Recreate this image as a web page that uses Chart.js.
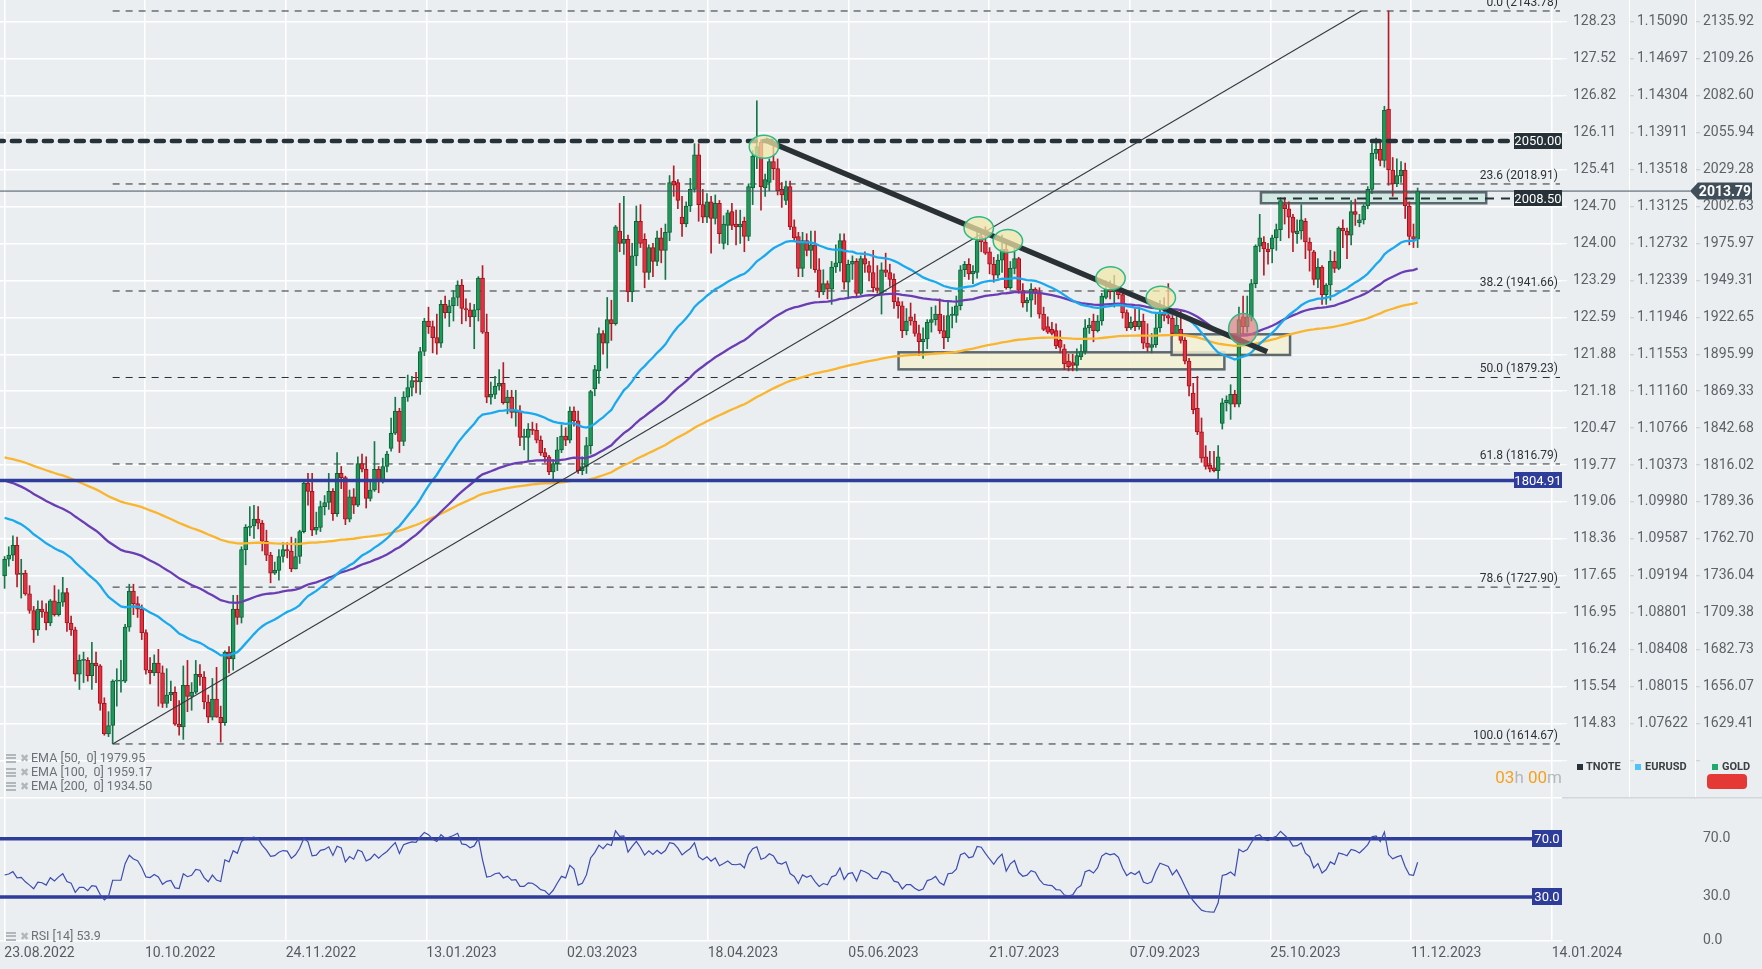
<!DOCTYPE html>
<html>
<head>
<meta charset="utf-8">
<script src="https://cdn.jsdelivr.net/npm/chart.js@4.4.0/dist/chart.umd.min.js"></script>
<style>
html,body{margin:0;padding:0;background:#eaeef1;width:1762px;height:969px;overflow:hidden;font-family:Roboto,sans-serif}
canvas{position:absolute;left:0}
#main{top:0}
#rsi{top:797px}
.leg{position:absolute;left:6px;height:14px;font-size:12.5px;line-height:14px;color:#6d7175;white-space:pre}
.leg .bars{display:inline-block;width:10px;height:9px;margin-right:4px;vertical-align:-1px;
  background:repeating-linear-gradient(#b2b7bb 0 2px,transparent 2px 3.5px)}
.leg .x{display:inline-block;width:11px;font-size:11px;color:#b2b7bb}
.sq{position:absolute;top:764px;width:6px;height:6px}
.lg{position:absolute;top:760px;font-size:11px;font-weight:bold;color:#3b4044;line-height:14px}
#timer{position:absolute;right:200px;top:767px;font-size:17px;line-height:20px;color:#b3b7bb}
#timer b{font-weight:normal;color:#f6a11c}
#redbox{position:absolute;left:1707px;top:774px;width:40px;height:15px;border-radius:4px;background:#e53935}
</style>
</head>
<body>
<canvas id="main" width="1762" height="797"></canvas>
<canvas id="rsi" width="1762" height="172"></canvas>

<div class="leg" style="top:751px"><span class="bars"></span><span class="x">✖</span>EMA [50,  0] 1979.95</div>
<div class="leg" style="top:765px"><span class="bars"></span><span class="x">✖</span>EMA [100,  0] 1959.17</div>
<div class="leg" style="top:779px"><span class="bars"></span><span class="x">✖</span>EMA [200,  0] 1934.50</div>
<div class="leg" style="top:929px"><span class="bars"></span><span class="x">✖</span>RSI [14] 53.9</div>

<div class="sq" style="left:1577px;background:#263238"></div><div class="lg" style="left:1586px">TNOTE</div>
<div class="sq" style="left:1635px;background:#4fc3f7"></div><div class="lg" style="left:1645px">EURUSD</div>
<div class="sq" style="left:1712px;background:#1faa6a"></div><div class="lg" style="left:1722px">GOLD</div>
<div id="redbox"></div>
<div id="timer"><b>03</b>h <b>00</b>m</div>

<script>
// ---- candles: GOLD daily, 23.08.2022 .. 13.12.2023 ----
const opens = [
  1736,1748,1751,1758,1737,1738,1723,
  1711,1697,1712,1710,1702,1718,1708,1717,1724,1702,1697,1665,1675,1675,1664,1673,1671,1644,1622,1628,1660,1660,
  1660,1699,1725,1716,1712,1695,1668,1666,1673,1666,1644,1650,1652,1629,1627,1657,1649,1652,1665,1663,1645,
  1634,1647,1634,1630,1681,1676,1712,1706,1755,1771,1772,1777,1774,1761,1751,1738,1740,1750,1755,1754,1741,1750,
  1768,1803,1797,1769,1771,1786,1789,1797,1781,1810,1807,1777,1793,1787,1817,1813,1792,1798,1813,1804,1815,
  1828,1839,1855,1833,1865,1872,1877,1876,1898,1920,1916,1908,1904,1932,1926,1931,1937,1946,1929,1928,1923,
  1928,1951,1912,1865,1867,1873,1875,1861,1865,1854,1855,1836,1836,1842,1841,1834,1825,1822,1811,1817,
  1827,1837,1834,1855,1848,1812,1815,1830,1871,1884,1911,1904,1921,1918,1985,1976,1979,1941,1967,1992,
  1979,1955,1973,1963,1980,1971,1984,2021,2020,1995,1990,2003,2015,2040,
  2004,1995,2006,1994,2005,1976,1989,1999,1990,1988,1992,1981,2016,2039,
  2049,2016,2020,2035,2030,2015,2007,2017,1988,1981,1958,1978,1971,1975,1957,1941,1947,1943,1959,
  1962,1978,1948,1961,1963,1940,1965,1960,1955,1944,1940,1957,1955,1950,1934,1931,1913,1923,1920,1911,1905,1907,
  1919,1921,1925,1913,1908,1924,1924,1931,1957,1961,1954,1955,1981,1977,1970,1961,1953,1964,1972,1944,1958,
  1965,1942,1933,1935,1943,1940,1925,1916,1914,1913,1906,1900,1891,1890,1888,
  1894,1898,1915,1920,1913,1920,1937,1943,1941,1942,1939,1926,1915,1920,1916,1920,1904,1901,1903,1915,
  1926,1924,1922,1911,1914,1906,1891,1868,1857,1840,1822,1816,1814,1812,1846,1861,1860,1867,1860,
  1923,1916,1923,1947,1974,1977,1972,1972,1980,1986,2004,2001,1995,1983,1985,1992,1977,1970,1950,1959,
  1939,1946,1963,1958,1987,1985,1982,1999,1991,1993,2003,2015,2041,2044,2036,2073,2029,2019,2025,2029,
  2003,1981,1979
];
const highs = [
  1750,1757,1765,1764,1748,1740,1729,
  1714,1718,1718,1716,1719,1729,1726,1735,1727,1707,1699,1679,1681,1677,1688,1681,1672,1648,1638,1661,1669,1675,
  1701,1730,1730,1721,1715,1697,1677,1679,1683,1671,1669,1660,1656,1646,1671,1675,1659,1675,1672,1667,1650,
  1662,1670,1642,1682,1685,1722,1722,1757,1773,1786,1787,1786,1776,1769,1753,1746,1755,1760,1760,1764,1763,1769,
  1804,1810,1810,1782,1790,1794,1810,1799,1825,1815,1808,1798,1799,1822,1824,1822,1805,1833,1815,1821,1826,
  1850,1865,1857,1869,1881,1880,1883,1901,1922,1930,1920,1925,1935,1938,1935,1942,1949,1950,1936,1933,1932,
  1952,1960,1925,1876,1880,1885,1890,1870,1870,1870,1859,1842,1846,1847,1846,1837,1828,1823,1820,1836,
  1845,1843,1858,1858,1855,1822,1836,1870,1888,1915,1913,1937,1935,1989,2005,2010,1982,1976,2003,2004,
  1983,1975,1976,1985,1987,1990,2025,2032,2022,2010,2006,2023,2048,2048,
  2015,2012,2010,2011,2007,1996,2000,2005,2000,2000,1995,2019,2043,2079,
  2051,2026,2037,2048,2037,2020,2021,2021,1993,1984,1984,1983,1985,1985,1965,1957,1949,1963,1975,
  1983,1983,1964,1967,1965,1967,1970,1963,1971,1960,1962,1969,1961,1954,1937,1934,1929,1933,1925,1917,1915,1921,
  1930,1931,1936,1924,1935,1930,1938,1960,1963,1965,1960,1987,1984,1988,1973,1966,1968,1982,1978,1963,1975,
  1966,1947,1937,1947,1944,1944,1930,1923,1919,1918,1913,1903,1896,1896,1900,
  1903,1921,1922,1925,1924,1940,1949,1949,1953,1945,1941,1928,1923,1929,1929,1925,1918,1911,1925,1935,
  1937,1947,1925,1926,1927,1908,1893,1875,1880,1850,1830,1826,1826,1830,1864,1866,1874,1870,1930,
  1938,1938,1950,1975,1997,1981,1976,1982,1990,2009,2009,2006,1997,1993,2004,1994,1980,1971,1965,1960,
  1947,1971,1970,1988,1993,1987,2007,2008,1997,2004,2017,2048,2052,2050,2075,2143.78,2038,2037,2035,2034,
  2006,1990,2016
];
const lows = [
  1727,1743,1747,1728,1720,1722,1709,
  1688,1693,1706,1697,1700,1707,1707,1714,1696,1693,1660,1654,1659,1660,1654,1659,1639,1621,1620,1615,1642,1652,
  1659,1696,1708,1706,1690,1665,1658,1664,1642,1641,1641,1646,1628,1621,1618,1638,1639,1651,1657,1640,1630,
  1632,1634,1616,1628,1666,1668,1701,1702,1744,1765,1763,1770,1754,1747,1731,1737,1733,1746,1749,1739,1741,1745,
  1767,1787,1765,1766,1768,1780,1784,1776,1779,1799,1773,1775,1781,1786,1811,1785,1790,1797,1796,1803,1811,
  1826,1838,1825,1830,1862,1866,1868,1867,1895,1911,1897,1896,1901,1922,1916,1920,1931,1918,1920,1916,1900,
  1920,1911,1861,1860,1864,1870,1860,1853,1850,1844,1830,1827,1819,1838,1832,1823,1818,1809,1804,1812,
  1825,1830,1832,1844,1810,1809,1810,1824,1866,1875,1896,1886,1906,1917,1970,1968,1934,1934,1960,1973,
  1944,1950,1952,1960,1962,1950,1978,2010,2001,1981,1988,1999,2013,1992,
  1991,1991,1969,1990,1976,1972,1975,1986,1975,1976,1970,1978,2004,2030,
  2000,2010,2014,2022,2011,2002,2004,1986,1978,1952,1952,1967,1958,1955,1937,1939,1936,1932,1955,
  1956,1943,1936,1950,1937,1939,1955,1949,1941,1940,1925,1952,1945,1929,1922,1908,1910,1917,1909,1895,1893,1900,
  1912,1917,1911,1900,1905,1915,1919,1928,1952,1950,1947,1951,1970,1968,1954,1948,1951,1955,1943,1943,1954,
  1940,1930,1927,1923,1932,1922,1913,1911,1910,1900,1897,1885,1884,1884,1884,
  1892,1896,1911,1905,1912,1917,1936,1936,1930,1936,1922,1913,1914,1913,1914,1900,1898,1897,1901,1912,
  1920,1918,1909,1910,1904,1889,1866,1853,1838,1818,1813,1811,1811,1806,1842,1855,1849,1858,1858,
  1911,1912,1920,1944,1970,1953,1961,1962,1971,1978,1990,1980,1970,1976,1979,1965,1956,1946,1944,1932,
  1932,1935,1955,1957,1973,1965,1975,1989,1988,1990,2001,2012,2037,2032,2031,2018,2010,2017,2020,1994,
  1975,1973,1973
];
const closes = [
  1748,1751,1758,1737,1738,1723,1711,
  1697,1712,1710,1702,1718,1708,1717,1724,1702,1697,1665,1675,1675,1664,1673,1671,1644,1622,1628,1660,1660,1660,
  1699,1725,1716,1712,1695,1668,1666,1673,1666,1644,1650,1652,1629,1627,1657,1649,1652,1665,1663,1645,1634,
  1647,1634,1630,1681,1676,1712,1706,1755,1771,1772,1777,1774,1761,1751,1738,1740,1750,1755,1754,1741,1750,1768,
  1803,1797,1769,1771,1786,1789,1797,1781,1810,1807,1777,1793,1787,1817,1813,1792,1798,1813,1804,1815,1824,
  1839,1855,1833,1865,1872,1877,1876,1898,1920,1916,1908,1904,1932,1926,1931,1937,1946,1929,1928,1923,1928,
  1951,1912,1865,1867,1873,1875,1861,1865,1854,1855,1836,1836,1842,1841,1834,1825,1822,1811,1817,1827,
  1837,1834,1855,1848,1812,1815,1830,1869,1885,1911,1904,1921,1918,1988,1976,1979,1941,1967,1992,1976,
  1955,1973,1963,1980,1971,1984,2020,2018,2007,1990,2003,2015,2040,2004,
  1995,2006,1994,2005,1983,1990,1998,1989,1988,1990,1981,2017,2039,2046,
  2017,2022,2035,2030,2014,2011,2017,1988,1980,1958,1978,1971,1975,1957,1941,1947,1943,1959,1962,
  1978,1948,1961,1963,1940,1965,1961,1955,1944,1942,1957,1955,1950,1934,1931,1913,1920,1920,1911,1905,1907,1919,
  1921,1925,1913,1908,1924,1925,1931,1957,1961,1954,1956,1978,1977,1969,1961,1953,1964,1972,1944,1958,1965,
  1942,1933,1935,1943,1940,1925,1914,1912,1911,1902,1901,1889,1887,1888,1895,
  1898,1915,1917,1913,1920,1938,1943,1941,1943,1939,1926,1915,1919,1916,1920,1904,1901,1903,1915,1926,
  1924,1922,1911,1917,1906,1891,1873,1856,1840,1821,1815,1813,1812,1822,1861,1863,1867,1860,1921,
  1916,1923,1947,1974,1980,1972,1970,1980,1986,2007,2001,1995,1984,1985,1993,1977,1971,1950,1959,1939,
  1946,1963,1958,1987,1985,1982,1999,1997,1993,2003,2015,2041,2044,2036,2072,2029,2019,2025,2029,2003,
  1981,1979,2013.79
];

// ---- axes ----
const xLabels = ['23.08.2022','10.10.2022','24.11.2022','13.01.2023','02.03.2023','18.04.2023','05.06.2023','21.07.2023','07.09.2023','25.10.2023','11.12.2023','14.01.2024'];
const goldTicks = [2135.92,2109.26,2082.60,2055.94,2029.28,2002.63,1975.97,1949.31,1922.65,1895.99,1869.33,1842.68,1816.02,1789.36,1762.70,1736.04,1709.38,1682.73,1656.07,1629.41,1602.75];
const tnoteLabels = ['128.23','127.52','126.82','126.11','125.41','124.70','124.00','123.29','122.59','121.88','121.18','120.47','119.77','119.06','118.36','117.65','116.95','116.24','115.54','114.83'];
const eurusdLabels = ['1.15090','1.14697','1.14304','1.13911','1.13518','1.13125','1.12732','1.12339','1.11946','1.11553','1.11160','1.10766','1.10373','1.09980','1.09587','1.09194','1.08801','1.08408','1.08015','1.07622'];
const goldLabels = goldTicks.slice(0,20).map(v=>v.toFixed(2));
const rsiTicks = [0,30,70];

// ---- indicators (seeded with the values the chart shows at its first bar) ----
const emaPeriods = [50,100,200];
const emaSeeds = [1778,1805,1821.6];
const emaColors = ['#1aa9ee','#6a3db3','#fab52e'];
const rsiSeedGain = 8.2, rsiSeedLoss = 10;
const rsiLevels = [70,30];

// ---- drawings ----
const fibPct = [0,23.6,38.2,50,61.8,78.6,100];
const fibPrice = [2143.78,2018.91,1941.66,1879.23,1816.79,1727.90,1614.67];
const fibStartBar = 26;
const resistance = 2050, zoneLine = 2008.5, support = 1804.91, lastPrice = 2013.79;
const trendA = [[26,1614.67],[326.4,2143.78]];          // thin rising line
const trendB = [[183,2050.6],[303.8,1897.8]];           // thick falling line
const zoneFrom = [215.1,280.8,302.3], zoneTo = [293.5,309.3,356.5];
const zoneLow = [1885.1,1895.5,2005.0], zoneHigh = [1897.4,1910.4,2012.9];
const zoneKind = ['sand','sand','teal'];
const markBar = [182.7,234.4,241.4,266.1,278.2,298];
const markPrice = [2045.8,1986.9,1977.8,1950.8,1936.8,1914.2];
const markKind = ['yellow','yellow','yellow','yellow','yellow','red'];

// ---- layout helpers ----
const X0_PX = 4.6, BAR_PX = 4.156, GRID0_PX = 4.33, GRID_PX = 140.67, PLOT_RIGHT = 1562;
const pxToBar = px => (px - X0_PX) / BAR_PX;
const X_MIN = pxToBar(0), X_MAX = pxToBar(PLOT_RIGHT);
const P_MAX = 2151.72, P_MIN = 1576.40;
const RSI_MAX = 98.6;
const FONT = 'Roboto';

function ema(period, seed){
  const k = 2/(period+1); let e = seed;
  return closes.map((c,i)=>{ if(i>0) e += k*(c-e); return e; });
}
function rsi(period){
  let ag = rsiSeedGain, al = rsiSeedLoss;
  return closes.map((c,i)=>{
    if(i>0){ const ch = c-closes[i-1];
      ag = (ag*(period-1)+Math.max(ch,0))/period;
      al = (al*(period-1)+Math.max(-ch,0))/period; }
    return 100-100/(1+ag/al);
  });
}
const bars = closes.map((_,i)=>i);
const up = i => closes[i] >= opens[i];
const hline = (price, fromBar, toBar) => [{x:fromBar,y:price},{x:toBar,y:price}];
const seg = s => s.map(p=>({x:p[0],y:p[1]}));

function tag(ctx, xl, yc, w, h, fill, text, font){
  ctx.fillStyle = fill; ctx.fillRect(xl, Math.round(yc-h/2), w, h);
  ctx.fillStyle = '#ffffff'; ctx.font = font || ('13px '+FONT);
  ctx.textAlign = 'center'; ctx.textBaseline = 'middle';
  ctx.fillText(text, xl+w/2, yc+1);
}

const xTicks = s => { s.ticks = xLabels.map((_,k)=>({value: pxToBar(GRID0_PX + k*GRID_PX)})); };

function priceAxis(labels, weight, width, pad, onArea){
  return {
    type:'linear', position:'right', weight, min:P_MIN, max:P_MAX,
    afterBuildTicks: s => { s.ticks = goldTicks.map(v=>({value:v})); },
    afterFit: s => { s.width = width; s.paddingTop = 0; s.paddingBottom = 0; },
    ticks:{ autoSkip:false, padding:pad, color:'#5d6266', font:{family:FONT,size:14},
      callback:(v,i)=> labels[i] || '' },
    grid:{ drawOnChartArea:onArea, color:'#ffffff', lineWidth:1.5, tickLength:5,
      tickColor: onArea ? '#ffffff' : '#c4cace', tickWidth:1 },
    border:{ display:!onArea, color:'#ffffff', width:1 }
  };
}

const mainDecor = {
  id:'mainDecor',
  beforeDatasetsDraw(chart){
    const {ctx, scales:{x,y}} = chart;
    ctx.save();
    zoneFrom.forEach((f,i)=>{
      const x1 = x.getPixelForValue(f), x2 = x.getPixelForValue(zoneTo[i]);
      const y1 = y.getPixelForValue(zoneHigh[i]), y2 = y.getPixelForValue(zoneLow[i]);
      ctx.fillStyle = zoneKind[i]==='teal' ? 'rgba(206,231,225,0.85)' : 'rgba(245,240,212,0.85)';
      ctx.fillRect(x1,y1,x2-x1,y2-y1);
      ctx.strokeStyle = 'rgba(77,90,97,0.9)'; ctx.lineWidth = 2.5;
      ctx.strokeRect(x1,y1,x2-x1,y2-y1);
    });
    ctx.restore();
  },
  afterDatasetsDraw(chart){
    const {ctx, scales:{x,y}} = chart;
    ctx.save();
    markBar.forEach((b,i)=>{
      const red = markKind[i]==='red';
      ctx.beginPath();
      ctx.ellipse(x.getPixelForValue(b), y.getPixelForValue(markPrice[i]), red?14.5:14.7, red?15.5:11.5, 0, 0, Math.PI*2);
      ctx.fillStyle = red ? 'rgba(221,120,120,0.65)' : 'rgba(243,231,168,0.72)';
      ctx.fill();
      ctx.strokeStyle = '#2fb986'; ctx.lineWidth = 1.5; ctx.stroke();
    });
    // fib captions
    ctx.font = '12px '+FONT; ctx.fillStyle = '#2e3236';
    ctx.textAlign = 'right'; ctx.textBaseline = 'alphabetic';
    fibPct.forEach((p,i)=>{
      ctx.fillText(p.toFixed(1)+' ('+fibPrice[i].toFixed(2)+')', 1558, y.getPixelForValue(fibPrice[i]) - 5);
    });
    // price tags on the right edge of the plot
    tag(ctx, 1514, y.getPixelForValue(resistance), 48, 16, '#263238', resistance.toFixed(2));
    tag(ctx, 1514, y.getPixelForValue(zoneLine), 48, 16, '#263238', zoneLine.toFixed(2));
    tag(ctx, 1514, y.getPixelForValue(support), 48, 16, '#2f3d9a', support.toFixed(2));
    // last price tag with pointer
    const yc = y.getPixelForValue(lastPrice);
    ctx.fillStyle = '#3f4e58';
    ctx.beginPath(); ctx.moveTo(1690, yc); ctx.lineTo(1698, yc-8.5); ctx.lineTo(1752, yc-8.5);
    ctx.lineTo(1752, yc+8.5); ctx.lineTo(1698, yc+8.5); ctx.closePath(); ctx.fill();
    ctx.fillStyle = '#ffffff'; ctx.font = 'bold 14px '+FONT; ctx.textAlign = 'center'; ctx.textBaseline = 'middle';
    ctx.fillText(lastPrice.toFixed(2), 1725, yc+1);
    ctx.restore();
  }
};

const emaSets = emaPeriods.map((p,k)=>{
  const v = ema(p, emaSeeds[k]);
  return {type:'line', data: bars.map(i=>({x:i,y:v[i]})), borderColor:emaColors[k], borderWidth:2.3,
    pointRadius:0, tension:0, order:3};
});
const fibSets = fibPrice.map(p=>({type:'line', data:hline(p, fibStartBar, pxToBar(1560)),
  borderColor:'#2b2f33', borderWidth:1, borderDash:[7,6], pointRadius:0, order:8}));

new Chart(document.getElementById('main'), {
  type:'bar',
  data:{ datasets:[
    {type:'line', data:seg(trendB), borderColor:'#2a3135', borderWidth:5.5, pointRadius:0, order:1},
    {type:'line', data:seg(trendA), borderColor:'#34393d', borderWidth:1.1, pointRadius:0, order:1},
    {type:'line', data:hline(resistance, X_MIN-1, pxToBar(1514)), borderColor:'#263238', borderWidth:4.5,
      borderDash:[8,8], borderCapStyle:'round', pointRadius:0, order:2},
    {type:'line', data:hline(zoneLine, pxToBar(1277), pxToBar(1514)), borderColor:'#263238', borderWidth:2,
      borderDash:[9,7], pointRadius:0, order:2},
    {type:'line', data:hline(support, X_MIN-1, pxToBar(1514)), borderColor:'#2f3d9a', borderWidth:3.5,
      pointRadius:0, order:2},
    {type:'line', data:hline(lastPrice, X_MIN-1, pxToBar(1690)), borderColor:'#46555f', borderWidth:1,
      pointRadius:0, order:2, clip:false},
    ...emaSets,
    {data: bars.map(i=>({x:i, y:[opens[i], closes[i]]})),
      backgroundColor: bars.map(i=>up(i)?'#1c9a5a':'#e3323f'),
      borderColor: bars.map(i=>up(i)?'#0f6137':'#a3121d'),
      borderWidth:1, borderSkipped:false, barThickness:4, minBarLength:1, grouped:false, order:5},
    {data: bars.map(i=>({x:i, y:[lows[i], highs[i]]})),
      backgroundColor: bars.map(i=>up(i)?'#17774a':'#b51c28'),
      barThickness:1, grouped:false, order:6},
    ...fibSets
  ]},
  options:{
    responsive:false, animation:false, devicePixelRatio:1, events:[],
    layout:{padding:0},
    plugins:{legend:{display:false}, tooltip:{enabled:false}},
    scales:{
      x:{type:'linear', min:X_MIN, max:X_MAX, offset:false,
        afterBuildTicks:xTicks,
        afterFit: s => { s.height = 0; s.paddingLeft = 0; s.paddingRight = 0; },
        ticks:{display:false},
        grid:{color:'#ffffff', lineWidth:1.5, drawTicks:false, offset:false},
        border:{display:false}},
      yT: priceAxis(tnoteLabels, 0, 67, 6, true),
      yE: priceAxis(eurusdLabels, 1, 66, 3, false),
      y:  priceAxis(goldLabels, 2, 67, 3, false)
    }
  },
  plugins:[mainDecor]
});

// ---- RSI panel ----
const rsiVals = rsi(14);
const rsiDecor = {
  id:'rsiDecor',
  afterDatasetsDraw(chart){
    const {ctx, scales:{y}} = chart;
    ctx.save();
    rsiLevels.forEach(v=> tag(ctx, 1532, y.getPixelForValue(v), 30, 17, '#2f3d9a', v.toFixed(1)));
    ctx.lineWidth = 1.5;
    ctx.strokeStyle = '#ffffff';
    ctx.beginPath(); ctx.moveTo(0,0.75); ctx.lineTo(PLOT_RIGHT,0.75); ctx.stroke();
    ctx.strokeStyle = '#d3d7db';
    ctx.beginPath(); ctx.moveTo(PLOT_RIGHT,0.75); ctx.lineTo(1762,0.75); ctx.stroke();
    ctx.restore();
  }
};
new Chart(document.getElementById('rsi'), {
  type:'line',
  data:{ datasets:[
    ...rsiLevels.map(v=>({data:hline(v, X_MIN-1, pxToBar(1532)), borderColor:'#2f3d9a', borderWidth:3.5,
      pointRadius:0, order:2})),
    {data: bars.map(i=>({x:i,y:rsiVals[i]})), borderColor:'#3d4cb0', borderWidth:1.2, pointRadius:0,
      tension:0, order:1}
  ]},
  options:{
    responsive:false, animation:false, devicePixelRatio:1, events:[],
    layout:{padding:0},
    plugins:{legend:{display:false}, tooltip:{enabled:false}},
    scales:{
      x:{type:'linear', min:X_MIN, max:X_MAX, offset:false,
        afterBuildTicks:xTicks,
        afterFit: s => { s.height = 28.3; s.paddingLeft = 0; s.paddingRight = 0; },
        ticks:{align:'start', padding:4, autoSkip:false, maxRotation:0, color:'#575c61',
          font:{family:FONT,size:14}, callback:(v,i)=>xLabels[i]},
        grid:{color:'#ffffff', lineWidth:1.5, drawTicks:false},
        border:{display:true, color:'#ffffff', width:1.5}},
      y:{type:'linear', position:'right', min:0, max:RSI_MAX,
        afterBuildTicks: s => { s.ticks = rsiTicks.map(v=>({value:v})); },
        afterFit: s => { s.width = 200; s.paddingTop = 0; s.paddingBottom = 0; },
        ticks:{autoSkip:false, padding:141, color:'#5d6266', font:{family:FONT,size:14},
          callback:v=>v.toFixed(1)},
        grid:{display:false, drawTicks:false},
        border:{display:false}}
    }
  },
  plugins:[rsiDecor]
});
</script>
</body>
</html>
